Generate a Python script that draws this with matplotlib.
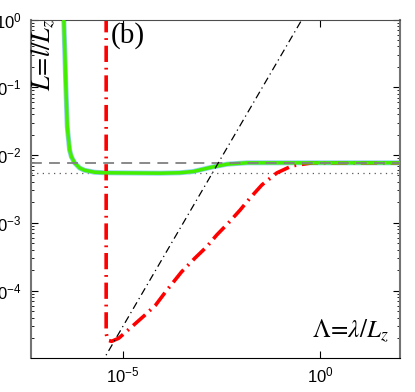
import numpy as np
import matplotlib.pyplot as plt
from matplotlib.ticker import LogLocator, NullLocator, NullFormatter

plt.rcParams['mathtext.fontset'] = 'stix'
plt.rcParams['font.family'] = ['Liberation Sans', 'DejaVu Sans']

# green curve (log10 values)
green_logx = [-6.49, -6.447, -6.404, -6.345, -6.299, -6.218, -6.089, -5.964,
              -5.709, -5.457, -4.06, -3.56, -3.223, -2.716, -2.36, -1.853,
              0.0, 2.03]
green_logy = [0.0, -0.839, -1.578, -1.923, -2.025, -2.115, -2.192, -2.225,
              -2.254, -2.262, -2.268, -2.262, -2.244, -2.175, -2.135, -2.115,
              -2.115, -2.115]

# red dash-dot curve
red_logx = [-5.419, -5.419, -5.381, -5.279, -5.102, -4.805, -4.442, -4.17,
            -3.916, -3.51, -3.173, -2.876, -2.622, -2.327, -2.03, -1.777,
            -1.48, -1.099, -0.718, -0.381, -0.2, 2.03]
red_logy = [0.05, -4.63, -4.734, -4.749, -4.704, -4.552, -4.364, -4.216,
            -4.019, -3.723, -3.521, -3.354, -3.18, -3.003, -2.811, -2.633,
            -2.441, -2.263, -2.160, -2.13, -2.115, -2.115]

# black dash-dot line L = c * Lambda
black_x = [1e-7, 1e2]
black_c = 2.93

dashed_level = 7.7e-3
dotted_level = 5.45e-3

fig = plt.figure(figsize=(4.15, 3.92), dpi=100)
ax = fig.add_axes([31 / 415, (392 - 358.3) / 392, 368.5 / 415, 338.8 / 392])

ax.axhline(dashed_level, color='0.5', lw=1.3, ls=(0, (6, 4)), zorder=4)
ax.axhline(dotted_level, color='0.35', lw=0.9, ls=(0, (1, 3.5)), zorder=1)

gx = 10 ** np.array(green_logx)
gy = 10 ** np.array(green_logy)
ax.plot(gx, gy, color='#8fd0ec', lw=3.6, solid_joinstyle='round', zorder=2)
ax.plot(gx, gy, color='#44ee00', lw=2.5, solid_joinstyle='round', zorder=3)

rx = 10 ** np.array(red_logx)
ry = 10 ** np.array(red_logy)
ax.plot(rx, ry, color='red', lw=2.6, ls=(0, (4.5, 1.6, 0.5, 1.6)), zorder=2.5)

bx = np.array(black_x)
ax.plot(bx, black_c * bx, color='black', lw=0.9, ls=(0, (6, 3, 1, 3)), zorder=5)

ax.set_xscale('log')
ax.set_yscale('log')
ax.set_xlim(10 ** -7.32, 10 ** 2.0)
ax.set_ylim(1e-5, 1e0)

ax.xaxis.set_major_locator(plt.FixedLocator([1e-5, 1e0]))
ax.xaxis.set_minor_locator(NullLocator())
ax.yaxis.set_minor_locator(LogLocator(base=10, subs=np.arange(2, 10), numticks=10))
ax.yaxis.set_minor_formatter(NullFormatter())
ax.set_yticks([1e-4, 1e-3, 1e-2, 1e-1, 1e0])

ax.tick_params(which='both', direction='in', top=True, right=True, labelsize=12)
ax.tick_params(which='major', length=5, width=0.8)
ax.tick_params(which='minor', length=2.5, width=0.6)
ax.tick_params(axis='y', pad=7)
ax.tick_params(axis='x', pad=5)

for side in ['left', 'right']:
    ax.spines[side].set_color('0.45')
    ax.spines[side].set_linewidth(1.5)
ax.spines['top'].set_color('0.3')
ax.spines['bottom'].set_color('black')

fig.text(111 / 415, 1 - 22 / 392, '(b)', family='Liberation Serif', fontsize=21,
         ha='left', va='top')
fig.text(43 / 415, 1 - 18 / 392, r'$L\!=\!l/L_z$', fontsize=19, rotation=90,
         ha='center', va='top')
ax.text(0.97, 0.04, r'$\Lambda\!=\!\lambda/L_z$', transform=ax.transAxes,
        fontsize=18, ha='right', va='bottom')

fig.savefig('out.png', dpi=100)
